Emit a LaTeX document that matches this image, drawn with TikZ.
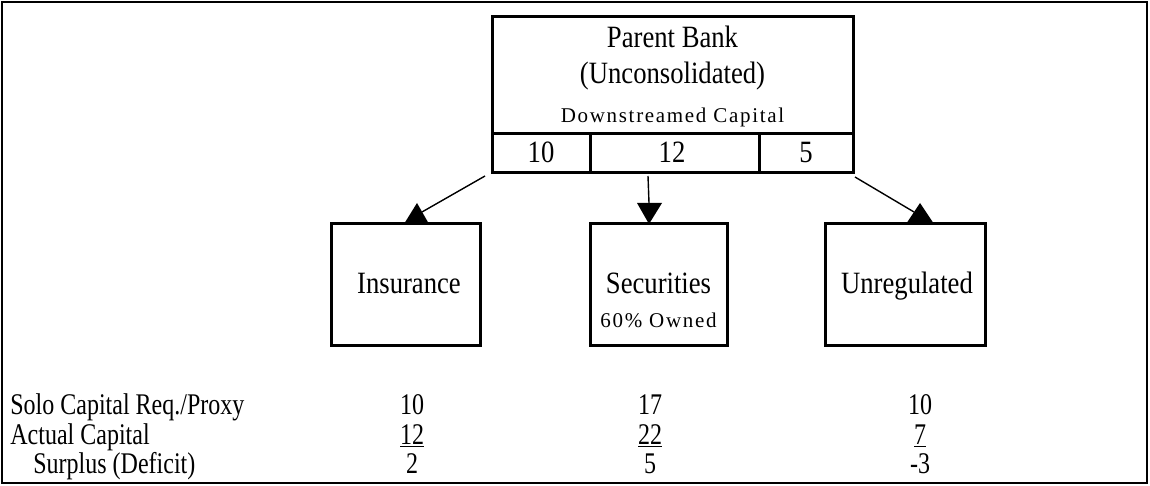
\documentclass[tikz,border=0pt]{standalone}
\usepackage{fontspec}
\setmainfont{Liberation Serif}[FakeStretch=0.86]
\newfontfamily\tabfont{Liberation Serif}[FakeStretch=0.8]
\newfontfamily\spaced{Liberation Serif}[LetterSpace=8]
\usetikzlibrary{calc}
\begin{document}
\begin{tikzpicture}[x=0.5pt,y=-0.5pt,
  box/.style={draw, line width=1.5pt, inner sep=0pt, outer sep=0pt},
  txt/.style={font=\fontsize{15.5}{18}\selectfont, inner sep=0pt, anchor=base},
  tab/.style={font=\tabfont\fontsize{15}{18}\selectfont, inner sep=0pt, anchor=base},
  lbl/.style={tab, anchor=base west},
  sml/.style={font=\spaced\fontsize{10.5}{12}\selectfont, inner sep=0pt, anchor=base},
  conn/.style={line width=0.7pt},
  head/.style={fill=black}]
\useasboundingbox (0,0) rectangle (1150,486);
\draw[line width=1.2pt] (2,2) rectangle (1147,483);
% parent bank
\node[box, minimum width=180.5pt, minimum height=58.5pt] (pb) at (672.5,75.5) {};
\node[box, minimum width=49pt, minimum height=19.5pt] (c1) at (541,153.5) {};
\node[box, minimum width=84.5pt, minimum height=19.5pt] (c2) at (674.5,153.5) {};
\node[box, minimum width=47pt, minimum height=19.5pt] (c3) at (806,153.5) {};
\node[txt] (pbt1) at (672.5,48) {Parent Bank};
\node[txt] (pbt2) at (672.5,84) {(Unconsolidated)};
\node[sml] (pbt3) at (672.5,123) {Downstreamed Capital};
\node[txt] (n1) at (541,163) {10};
\node[txt] (n2) at (672,163) {12};
\node[txt] (n3) at (806,163) {5};
% subsidiaries
\node[box, minimum width=74.5pt, minimum height=60.5pt] (ins) at (405.5,284.5) {};
\node[box, minimum width=68.5pt, minimum height=60.5pt] (sec) at (658.5,284.5) {};
\node[box, minimum width=80pt, minimum height=60.5pt] (unr) at (905,284.5) {};
\node[txt] (inst) at (409,293) {Insurance};
\node[txt] (sect) at (658.5,293) {Securities};
\node[sml] (secs) at (658.5,327) {60\% Owned};
\node[txt] (unrt) at (907,293) {Unregulated};
% connectors
\coordinate (la) at (417,203);
\coordinate (le) at (422,212);
\coordinate (ma) at (649,203);
\coordinate (mt) at (649,224);
\coordinate (ra) at (920,203);
\coordinate (re) at (914,212);
\draw[conn] ($(c1.south west)+(-7,3)$) -- (le);
\draw[conn] ($(c2.south west)+(58,3)$) -- (ma);
\draw[conn] ($(c3.south east)+(2,4)$) -- (re);
\fill[head] (la) -- ($(la)+(-13,21)$) -- ($(la)+(12,21)$) -- cycle;
\fill[head] ($(ma)+(-12,0)$) -- ($(ma)+(13,0)$) -- (mt) -- cycle;
\fill[head] (ra) -- ($(ra)+(-14,21)$) -- ($(ra)+(14,21)$) -- cycle;
% table
\node[lbl] (r1) at (10,414) {Solo Capital Req./Proxy};
\node[lbl] (r2) at (10,444) {Actual Capital};
\node[lbl] (r3) at (33,473) {Surplus (Deficit)};
\node[tab] (a1) at (412,414) {10};
\node[tab] (a2) at (650,414) {17};
\node[tab] (a3) at (920,414) {10};
\node[tab] (b1) at (412,444) {\underline{12}};
\node[tab] (b2) at (650,444) {\underline{22}};
\node[tab] (b3) at (920,444) {\underline{7}};
\node[tab] (d1) at (412,473) {2};
\node[tab] (d2) at (650,473) {5};
\node[tab] (d3) at (920,473) {-3};
\end{tikzpicture}
\end{document}
